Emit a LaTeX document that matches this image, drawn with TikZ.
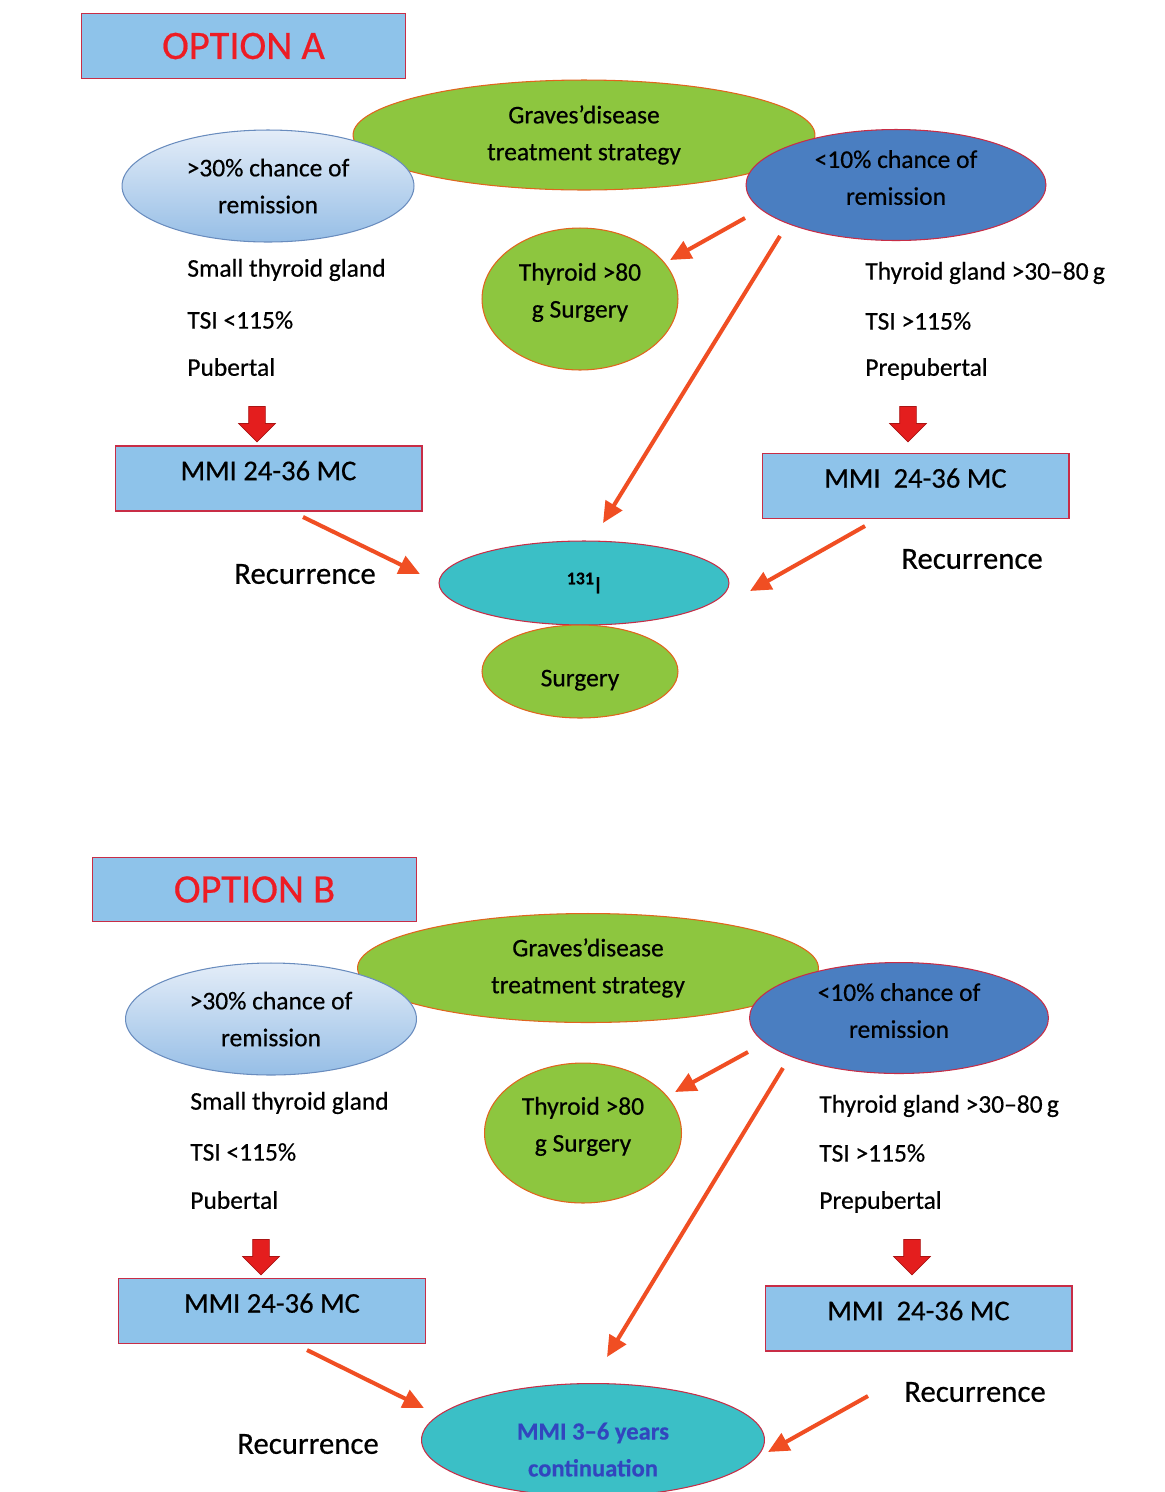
\documentclass[tikz,border=0pt]{standalone}
\usepackage{fontspec}
\setmainfont{Carlito}[FakeBold=0.5]
\usepackage{tikz}
\usetikzlibrary{shapes.geometric,shapes.arrows,arrows.meta}
\definecolor{boxblue}{RGB}{142,195,234}
\definecolor{boxline}{RGB}{200,45,70}
\definecolor{leafgreen}{RGB}{141,198,63}
\definecolor{leafline}{RGB}{225,100,30}
\definecolor{tealfill}{RGB}{59,191,198}
\definecolor{deepblue}{RGB}{74,126,193}
\definecolor{paletop}{RGB}{228,237,248}
\definecolor{palebot}{RGB}{150,190,230}
\definecolor{paleline}{RGB}{105,140,190}
\definecolor{arrowred}{RGB}{240,78,35}
\definecolor{blockred}{RGB}{228,30,30}
\definecolor{blockline}{RGB}{170,20,20}
\definecolor{optred}{RGB}{237,28,36}
\definecolor{textblue}{RGB}{50,70,190}

\begin{document}
\begin{tikzpicture}[
     x = 0.02cm, y = -0.02cm,
     every node/.style = {
        text = black, font = \fontsize{14.5}{21}\selectfont},
     box/.style = {rectangle, draw = boxline, fill = boxblue, line width = .6pt},
     optbox/.style = {box, minimum width = 6.5cm, minimum height = 1.29cm,
        text = optred, font = \fontsize{23}{26}\selectfont},
     mmibox/.style = {box, minimum width = 6.14cm, minimum height = 1.3cm,
        text depth = .32cm, font = \fontsize{16.3}{20}\selectfont},
     oval/.style = {ellipse, line width = .6pt, inner sep = 0pt, align = center},
     greenoval/.style = {oval, draw = leafline, fill = leafgreen},
     paleoval/.style = {oval, draw = paleline, top color = paletop, bottom color = palebot},
     darkoval/.style = {oval, draw = boxline, fill = deepblue, text depth = .3cm},
     tealoval/.style = {oval, draw = boxline, fill = tealfill},
     item/.style = {anchor = west, inner xsep = 0pt},
     recur/.style = {font = \fontsize{17.5}{20}\selectfont},
     downarr/.style = {single arrow, shape border rotate = 270, fill = blockred,
        draw = blockline, line width = .4pt, minimum size = .71cm, inner sep = .16cm,
        single arrow head extend = .2cm},
     arr/.style = {draw = arrowred, line width = 2.3pt,
        -{Triangle[length = .42cm, width = .38cm]}}
     ]

     \useasboundingbox (0,0) rectangle (1165,1492);

     % option A
     \node[optbox] (OA) at (243.5,46) {OPTION A};
     \node[greenoval, minimum width = 9.24cm, minimum height = 2.2cm] (GA) at (584,135)
        {Graves’disease\\treatment strategy};
     \node[paleoval, minimum width = 5.84cm, minimum height = 2.24cm] (HA) at (268,186)
        {>30\% chance of\\remission};
     \node[darkoval, minimum width = 6cm, minimum height = 2.22cm] (LA) at (896,185)
        {<10\% chance of\\remission};
     \node[greenoval, minimum width = 3.92cm, minimum height = 2.84cm,
        text depth = .35cm] (TA) at (580,299) {Thyroid >80\\g Surgery};
     \node[item] (SA1) at (187,270) {Small thyroid gland};
     \node[item] (SA2) at (187,320) {TSI <115\%};
     \node[item] (SA3) at (187,367) {Pubertal};
     \node[item] (PA1) at (865,273) {Thyroid gland >30–80\,g};
     \node[item] (PA2) at (865,321) {TSI >115\%};
     \node[item] (PA3) at (865,369) {Prepubertal};
     \node[downarr] (DLA) at (257,420) {};
     \node[downarr] (DRA) at (908,420) {};
     \node[mmibox] (MLA) at (268.5,478.5) {MMI 24-36 MC};
     \node[mmibox] (MRA) at (915.5,486) {MMI\ \ 24-36 MC};
     \node[recur] (RLA) at (305,574) {Recurrence};
     \node[recur] (RRA) at (972,559) {Recurrence};
     \node[tealoval, minimum width = 5.8cm, minimum height = 1.68cm] (IA) at (584,583)
        {\textsuperscript{\bfseries 131}I};
     \node[greenoval, minimum width = 3.92cm, minimum height = 1.86cm,
        text height = .68cm] (UA) at (580,671.5) {Surgery};
     \coordinate (a1) at (745,218);
     \coordinate (b1) at (670,260);
     \coordinate (a2) at (780,236);
     \coordinate (b2) at (603,523);
     \coordinate (a3) at (303,517);
     \coordinate (b3) at (420,574);
     \coordinate (a4) at (865,526);
     \coordinate (b4) at (750,591);
     \draw[arr] (a1)--(b1);
     \draw[arr] (a2)--(b2);
     \draw[arr] (a3)--(b3);
     \draw[arr] (a4)--(b4);

     % option B
     \node[optbox] (OB) at (254.5,889.5) {OPTION B};
     \node[greenoval, minimum width = 9.22cm, minimum height = 2.18cm] (GB) at (588,968)
        {Graves’disease\\treatment strategy};
     \node[paleoval, minimum width = 5.82cm, minimum height = 2.24cm] (HB) at (271,1019)
        {>30\% chance of\\remission};
     \node[darkoval, minimum width = 5.98cm, minimum height = 2.22cm] (LB) at (899,1018)
        {<10\% chance of\\remission};
     \node[greenoval, minimum width = 3.94cm, minimum height = 2.8cm,
        text depth = .35cm] (TB) at (583,1133) {Thyroid >80\\g Surgery};
     \node[item] (SB1) at (190,1103) {Small thyroid gland};
     \node[item] (SB2) at (190,1152) {TSI <115\%};
     \node[item] (SB3) at (190,1200) {Pubertal};
     \node[item] (PB1) at (819,1106) {Thyroid gland >30–80\,g};
     \node[item] (PB2) at (819,1153) {TSI >115\%};
     \node[item] (PB3) at (819,1202) {Prepubertal};
     \node[downarr] (DLB) at (261,1253) {};
     \node[downarr] (DRB) at (912,1253) {};
     \node[mmibox] (MLB) at (272,1311) {MMI 24-36 MC};
     \node[mmibox] (MRB) at (918.5,1318.5) {MMI\ \ 24-36 MC};
     \node[recur] (RLB) at (308,1444) {Recurrence};
     \node[recur] (RRB) at (975,1392) {Recurrence};
     \node[tealoval, minimum width = 6.86cm, minimum height = 2.26cm, text = textblue,
        text height = 1.46cm, font = \bfseries\fontsize{14}{21}\selectfont] (CB) at (593,1440)
        {MMI 3–6 years\\continuation};
     \coordinate (c1) at (748,1052);
     \coordinate (d1) at (675,1092);
     \coordinate (c2) at (783,1068);
     \coordinate (d2) at (607,1357);
     \coordinate (c3) at (307,1350);
     \coordinate (d3) at (424,1408);
     \coordinate (c4) at (868,1396);
     \coordinate (d4) at (768,1452);
     \draw[arr] (c1)--(d1);
     \draw[arr] (c2)--(d2);
     \draw[arr] (c3)--(d3);
     \draw[arr] (c4)--(d4);

\end{tikzpicture}
\end{document}
